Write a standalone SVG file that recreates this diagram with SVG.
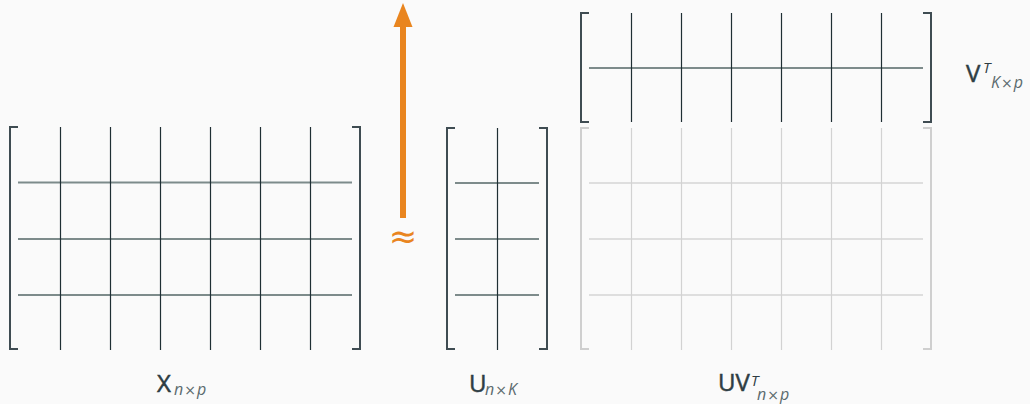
<svg xmlns="http://www.w3.org/2000/svg" width="1030" height="404" viewBox="0 0 1030 404">
  <style>
    .bg { fill: #fafafa; }
    .br { fill: none; stroke: #3f4c52; stroke-width: 2; }
    .vl { stroke: #1f2f34; stroke-width: 1.2; }
    .hl { stroke: #7d8b8b; stroke-width: 1.8; }
    .br-lt { fill: none; stroke: #cfcfcf; stroke-width: 2; }
    .vl-lt { stroke: #d2d2d2; stroke-width: 1.2; }
    .hl-lt { stroke: #dedede; stroke-width: 1.8; }
    .lbl { font-family: "Open Sans", "Liberation Sans", sans-serif; fill: #2e3d43; stroke: #2e3d43; stroke-width: 0.5; font-size: 24px; }
    .sub { font-family: "Open Sans", "Liberation Sans", sans-serif; fill: #5b6a6e; font-size: 16px; font-style: italic; }
    .op { font-family: "DejaVu Sans", sans-serif; font-style: normal; font-size: 14px; }
    .sup { font-family: "Open Sans", "Liberation Sans", sans-serif; fill: #2e3d43; font-size: 15px; font-style: italic; }
    .approx { font-family: "DejaVu Sans", sans-serif; fill: #e9851f; font-size: 34px; }
  </style>
  <rect class="bg" x="0" y="0" width="1030" height="404"/>

  <!-- X (n x p) -->
  <g id="matrix-X">
    <path class="br" d="M18,127 H10 V349 H18"/>
    <path class="br" d="M352,127 H360 V349 H352"/>
    <line class="hl" x1="18" y1="182.5" x2="352" y2="182.5"/>
    <line class="hl" x1="18" y1="239" x2="352" y2="239"/>
    <line class="hl" x1="18" y1="295" x2="352" y2="295"/>
    <line class="vl" x1="60.5" y1="127" x2="60.5" y2="350"/>
    <line class="vl" x1="110.5" y1="127" x2="110.5" y2="350"/>
    <line class="vl" x1="160.5" y1="127" x2="160.5" y2="350"/>
    <line class="vl" x1="210.5" y1="127" x2="210.5" y2="350"/>
    <line class="vl" x1="260.5" y1="127" x2="260.5" y2="350"/>
    <line class="vl" x1="310.5" y1="127" x2="310.5" y2="350"/>
    <text class="lbl" x="157" y="392">X</text>
    <text class="sub" x="174" y="395">n<tspan class="op" dx="1">×</tspan><tspan dx="1">p</tspan></text>
  </g>

  <!-- U (n x K) -->
  <g id="matrix-U">
    <path class="br" d="M455,128 H447 V349 H455"/>
    <path class="br" d="M539,128 H547 V349 H539"/>
    <line class="hl" x1="455" y1="183" x2="539" y2="183"/>
    <line class="hl" x1="455" y1="239" x2="539" y2="239"/>
    <line class="hl" x1="455" y1="295" x2="539" y2="295"/>
    <line class="vl" x1="497.5" y1="128" x2="497.5" y2="350"/>
    <text class="lbl" x="469" y="392">U</text>
    <text class="sub" x="485" y="395">n<tspan class="op" dx="1">×</tspan><tspan dx="1">K</tspan></text>
  </g>

  <!-- V transpose (K x p) -->
  <g id="matrix-VT">
    <path class="br" d="M589,13 H581 V122 H589"/>
    <path class="br" d="M923,13 H931 V122 H923"/>
    <line class="hl" x1="589" y1="68" x2="923" y2="68"/>
    <line class="vl" x1="631.5" y1="13" x2="631.5" y2="122"/>
    <line class="vl" x1="681.5" y1="13" x2="681.5" y2="122"/>
    <line class="vl" x1="731.5" y1="13" x2="731.5" y2="122"/>
    <line class="vl" x1="781.5" y1="13" x2="781.5" y2="122"/>
    <line class="vl" x1="831.5" y1="13" x2="831.5" y2="122"/>
    <line class="vl" x1="881.5" y1="13" x2="881.5" y2="122"/>
    <text class="lbl" x="966" y="82">V</text>
    <text class="sup" x="983" y="73">T</text>
    <text class="sub" x="991" y="88">K<tspan class="op" dx="1">×</tspan><tspan dx="1">p</tspan></text>
  </g>

  <!-- U V^T product (n x p), faded -->
  <g id="matrix-UVT">
    <path class="br-lt" d="M589,128 H581 V349 H589"/>
    <path class="br-lt" d="M923,128 H931 V349 H923"/>
    <line class="hl-lt" x1="589" y1="183" x2="923" y2="183"/>
    <line class="hl-lt" x1="589" y1="239" x2="923" y2="239"/>
    <line class="hl-lt" x1="589" y1="295" x2="923" y2="295"/>
    <line class="vl-lt" x1="631.5" y1="128" x2="631.5" y2="350"/>
    <line class="vl-lt" x1="681.5" y1="128" x2="681.5" y2="350"/>
    <line class="vl-lt" x1="731.5" y1="128" x2="731.5" y2="350"/>
    <line class="vl-lt" x1="781.5" y1="128" x2="781.5" y2="350"/>
    <line class="vl-lt" x1="831.5" y1="128" x2="831.5" y2="350"/>
    <line class="vl-lt" x1="881.5" y1="128" x2="881.5" y2="350"/>
    <text class="lbl" x="718" y="391">UV</text>
    <text class="sup" x="751" y="386">T</text>
    <text class="sub" x="757" y="400">n<tspan class="op" dx="1">×</tspan><tspan dx="1">p</tspan></text>
  </g>

  <!-- upward arrow -->
  <g id="connectors">
    <line x1="403" y1="218" x2="403" y2="26" stroke="#e9851f" stroke-width="6"/>
    <path d="M393.5,27 L403,3 L412.5,27 Z" fill="#e9851f"/>
  </g>
  <g id="approx">
    <text class="approx" x="403" y="248" text-anchor="middle">≈</text>
  </g>
</svg>
